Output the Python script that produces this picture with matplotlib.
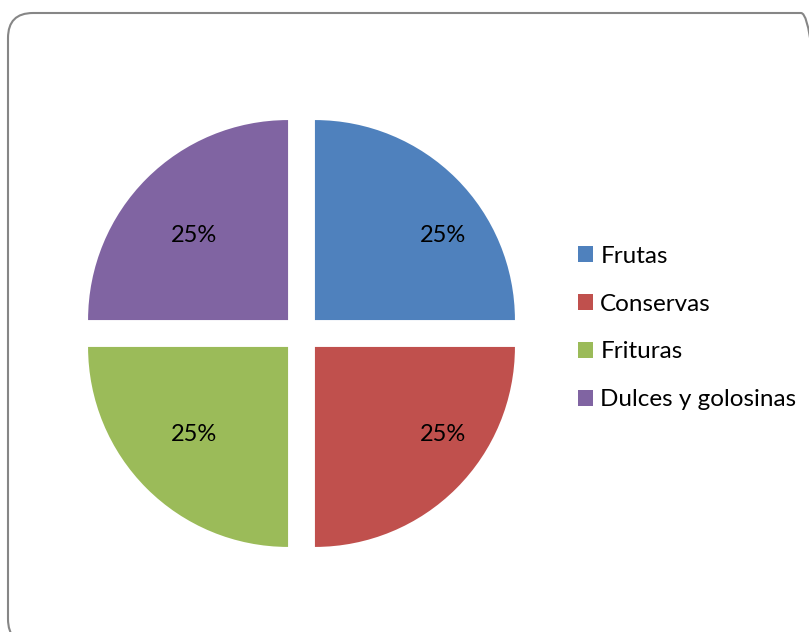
import matplotlib.pyplot as plt
from matplotlib.patches import FancyBboxPatch
from matplotlib.transforms import IdentityTransform

categorias = ['Frutas', 'Conservas', 'Frituras', 'Dulces y golosinas']
valores = [25, 25, 25, 25]
colores = ['#4F81BD', '#C0504D', '#9BBB59', '#8064A2']

plt.rcParams['font.family'] = ['Lato', 'DejaVu Sans']

fig = plt.figure(figsize=(8.09, 6.32), dpi=100)
ax = fig.add_axes([0, 0, 1, 1])

wedges, textos, porcentajes = ax.pie(
    valores, colors=colores, startangle=90, counterclock=False,
    explode=[0.095] * 4, autopct='%1.0f%%', pctdistance=0.6,
    textprops={'fontsize': 17, 'color': 'black'})

# etiquetas mas abiertas en horizontal y algo corridas a la derecha
for t in porcentajes:
    x, y = t.get_position()
    t.set_position((x * 1.268 + 0.085, y * 1.015 - 0.0075))

# 1 unidad = 200 px, centro del pastel en (301.5, 298.5) px
ax.set_xlim(-301.5 / 200, (809 - 301.5) / 200)
ax.set_ylim(-298.5 / 200, (632 - 298.5) / 200)
ax.set_aspect('equal')
ax.axis('off')

ax.legend(wedges, categorias, loc='center left',
          bbox_to_anchor=(578 / 809, 1 - 328 / 632), bbox_transform=fig.transFigure,
          frameon=False, fontsize=17.5, handlelength=0.62, handleheight=0.62,
          handletextpad=0.3, labelspacing=1.11, borderpad=0, borderaxespad=0)

# marco redondeado del grafico (en pixeles)
marco = FancyBboxPatch((8, -12), 818, 631,
                       boxstyle='round,pad=0,rounding_size=25',
                       transform=IdentityTransform(), facecolor='none',
                       edgecolor='#868686', linewidth=1.5, clip_on=False)
fig.patches.append(marco)

fig.savefig('out.png', dpi=100)
